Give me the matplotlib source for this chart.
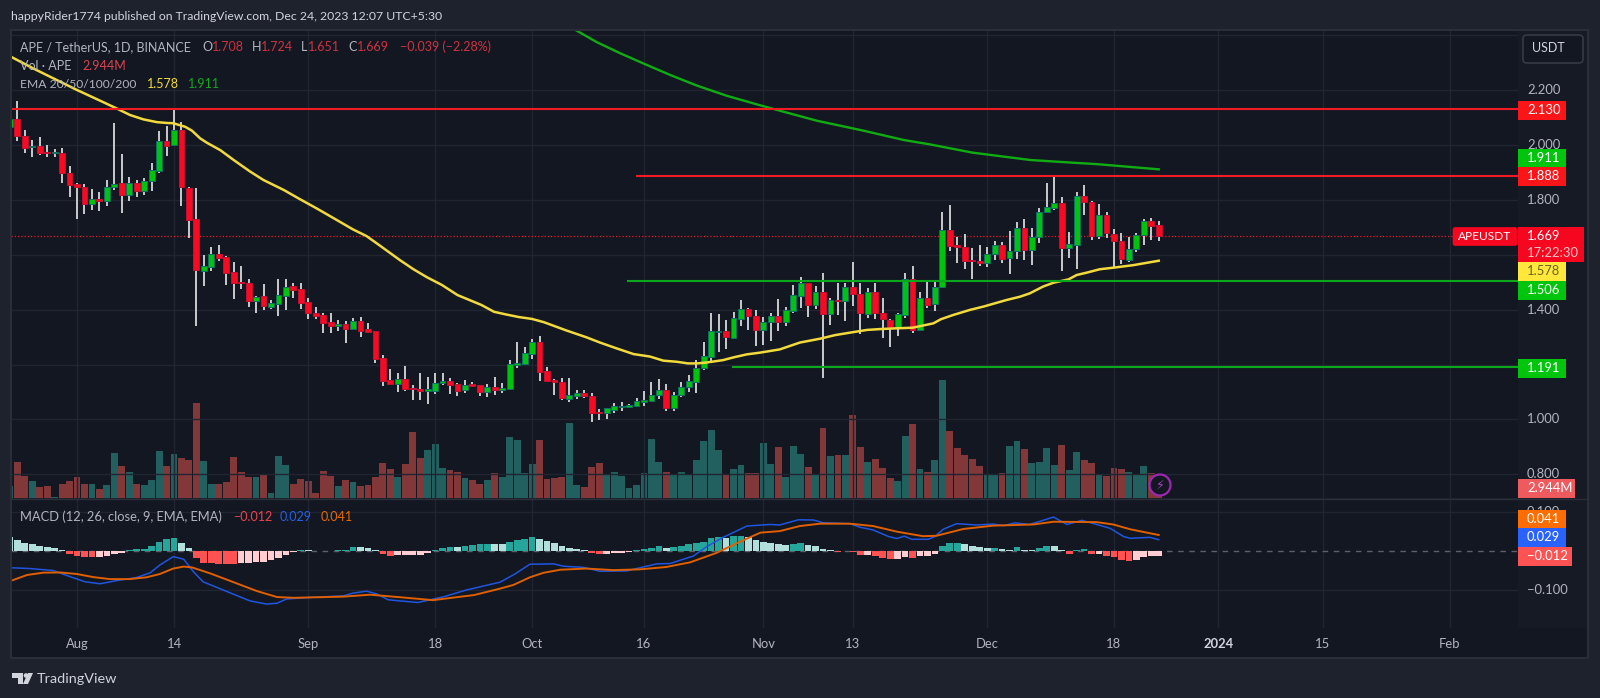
import numpy as np
import matplotlib
matplotlib.use("Agg")
import matplotlib.pyplot as plt
from matplotlib.patches import Rectangle, FancyBboxPatch, Circle, Polygon

plt.rcParams['font.family'] = ['Lato', 'DejaVu Sans']

# days counted from 1 Aug 2023, one candle per day (23 Jul -> 24 Dec)
days = np.arange(-9, 146)

opens = [2.067, 2.093, 2.032, 1.992, 1.996, 1.974, 1.971, 1.972, 1.899, 1.858,
         1.847, 1.785, 1.802, 1.797, 1.845, 1.860, 1.819, 1.860, 1.832, 1.868,
         1.904, 2.013, 1.999, 2.054, 1.844, 1.729, 1.542, 1.556, 1.603, 1.590,
         1.536, 1.501, 1.496, 1.433, 1.450, 1.411, 1.420, 1.451, 1.485, 1.474,
         1.426, 1.388, 1.382, 1.356, 1.342, 1.349, 1.328, 1.358, 1.328, 1.321,
         1.224, 1.144, 1.129, 1.147, 1.116, 1.112, 1.105, 1.105, 1.131, 1.141,
         1.129, 1.107, 1.129, 1.124, 1.100, 1.118, 1.108, 1.110, 1.199, 1.203,
         1.238, 1.281, 1.175, 1.145, 1.138, 1.073, 1.087, 1.096, 1.087, 1.027,
         1.022, 1.036, 1.045, 1.045, 1.049, 1.065, 1.068, 1.088, 1.108, 1.043,
         1.088, 1.119, 1.138, 1.187, 1.229, 1.317, 1.323, 1.295, 1.367, 1.401,
         1.378, 1.325, 1.355, 1.378, 1.355, 1.396, 1.451, 1.496, 1.418, 1.464,
         1.383, 1.436, 1.431, 1.484, 1.458, 1.385, 1.464, 1.386, 1.363, 1.338,
         1.379, 1.510, 1.325, 1.441, 1.419, 1.481, 1.690, 1.634, 1.627, 1.581,
         1.577, 1.569, 1.601, 1.634, 1.588, 1.615, 1.699, 1.617, 1.663, 1.754,
         1.770, 1.788, 1.623, 1.637, 1.815, 1.792, 1.668, 1.743, 1.677, 1.651,
         1.582, 1.621, 1.673, 1.722, 1.708]
closes = [2.094, 2.032, 1.990, 1.996, 1.969, 1.971, 1.974, 1.897, 1.854, 1.845,
          1.784, 1.802, 1.797, 1.845, 1.856, 1.819, 1.860, 1.831, 1.870, 1.907,
          2.013, 1.997, 2.054, 1.845, 1.727, 1.544, 1.559, 1.603, 1.587, 1.532,
          1.498, 1.497, 1.433, 1.445, 1.414, 1.423, 1.452, 1.484, 1.473, 1.423,
          1.389, 1.378, 1.352, 1.340, 1.346, 1.328, 1.358, 1.323, 1.317, 1.221,
          1.141, 1.128, 1.146, 1.111, 1.112, 1.102, 1.110, 1.134, 1.141, 1.125,
          1.105, 1.124, 1.123, 1.100, 1.117, 1.108, 1.113, 1.202, 1.204, 1.243,
          1.281, 1.174, 1.140, 1.135, 1.077, 1.089, 1.096, 1.084, 1.023, 1.022,
          1.040, 1.048, 1.049, 1.053, 1.066, 1.069, 1.088, 1.108, 1.043, 1.089,
          1.117, 1.140, 1.188, 1.231, 1.321, 1.321, 1.299, 1.368, 1.401, 1.377,
          1.326, 1.356, 1.378, 1.355, 1.397, 1.452, 1.496, 1.418, 1.464, 1.383,
          1.435, 1.430, 1.484, 1.457, 1.386, 1.464, 1.386, 1.365, 1.338, 1.383,
          1.510, 1.326, 1.441, 1.418, 1.484, 1.690, 1.633, 1.627, 1.578, 1.578,
          1.569, 1.603, 1.634, 1.586, 1.615, 1.699, 1.617, 1.663, 1.757, 1.773,
          1.788, 1.623, 1.638, 1.815, 1.791, 1.668, 1.745, 1.678, 1.649, 1.584,
          1.622, 1.673, 1.723, 1.703, 1.669]
highs = [2.100, 2.160, 2.054, 2.018, 2.028, 2.000, 1.984, 1.988, 1.924, 1.860,
         1.856, 1.838, 1.830, 1.872, 2.079, 1.967, 1.884, 1.872, 1.878, 1.933,
         2.051, 2.069, 2.127, 2.084, 1.848, 1.842, 1.599, 1.627, 1.635, 1.595,
         1.572, 1.559, 1.510, 1.450, 1.493, 1.435, 1.510, 1.510, 1.496, 1.498,
         1.441, 1.408, 1.386, 1.389, 1.362, 1.358, 1.368, 1.372, 1.350, 1.322,
         1.233, 1.182, 1.170, 1.195, 1.125, 1.170, 1.156, 1.170, 1.168, 1.150,
         1.134, 1.144, 1.135, 1.125, 1.129, 1.153, 1.131, 1.216, 1.283, 1.265,
         1.293, 1.305, 1.190, 1.148, 1.150, 1.150, 1.107, 1.107, 1.097, 1.037,
         1.040, 1.059, 1.063, 1.056, 1.077, 1.105, 1.136, 1.146, 1.129, 1.099,
         1.135, 1.162, 1.216, 1.281, 1.389, 1.383, 1.362, 1.391, 1.435, 1.405,
         1.399, 1.372, 1.389, 1.437, 1.411, 1.490, 1.518, 1.497, 1.486, 1.532,
         1.441, 1.498, 1.496, 1.575, 1.496, 1.478, 1.496, 1.441, 1.366, 1.386,
         1.532, 1.559, 1.465, 1.508, 1.502, 1.757, 1.781, 1.666, 1.674, 1.623,
         1.635, 1.627, 1.650, 1.645, 1.686, 1.720, 1.729, 1.696, 1.769, 1.860,
         1.887, 1.809, 1.684, 1.827, 1.854, 1.797, 1.785, 1.754, 1.692, 1.678,
         1.666, 1.678, 1.729, 1.733, 1.724]
lows = [2.060, 2.015, 1.972, 1.957, 1.963, 1.955, 1.957, 1.860, 1.811, 1.729,
        1.747, 1.763, 1.761, 1.777, 1.836, 1.751, 1.797, 1.811, 1.818, 1.833,
        1.897, 1.960, 1.997, 1.779, 1.660, 1.342, 1.486, 1.542, 1.578, 1.490,
        1.439, 1.474, 1.408, 1.386, 1.399, 1.403, 1.377, 1.399, 1.441, 1.401,
        1.366, 1.367, 1.314, 1.314, 1.322, 1.277, 1.326, 1.301, 1.316, 1.204,
        1.122, 1.124, 1.101, 1.105, 1.071, 1.071, 1.056, 1.093, 1.125, 1.093,
        1.085, 1.095, 1.119, 1.085, 1.083, 1.088, 1.095, 1.107, 1.186, 1.202,
        1.220, 1.140, 1.140, 1.089, 1.071, 1.063, 1.073, 1.078, 0.991, 0.998,
        1.002, 1.022, 1.032, 1.043, 1.046, 1.050, 1.068, 1.073, 1.032, 1.032,
        1.083, 1.100, 1.097, 1.180, 1.213, 1.247, 1.255, 1.295, 1.340, 1.326,
        1.267, 1.272, 1.287, 1.323, 1.340, 1.389, 1.405, 1.374, 1.402, 1.150,
        1.343, 1.380, 1.360, 1.413, 1.310, 1.368, 1.366, 1.295, 1.263, 1.305,
        1.368, 1.316, 1.325, 1.405, 1.396, 1.478, 1.615, 1.571, 1.548, 1.513,
        1.559, 1.556, 1.581, 1.571, 1.530, 1.584, 1.581, 1.563, 1.641, 1.754,
        1.763, 1.542, 1.587, 1.548, 1.745, 1.654, 1.656, 1.660, 1.550, 1.565,
        1.575, 1.611, 1.635, 1.654, 1.651]

# volume in millions
volumes = [3.5, 10.5, 6.5, 5.0, 3.2, 3.4, 0.4, 4.0, 5.0, 6.3,
           4.0, 4.0, 2.6, 3.7, 13.2, 9.4, 7.6, 4.2, 3.9, 5.3,
           13.8, 9.4, 12.9, 11.8, 11.2, 27.9, 10.9, 4.2, 4.0, 4.8,
           12.1, 7.7, 6.3, 6.3, 7.1, 1.4, 12.4, 9.7, 4.2, 5.6,
           5.0, 1.4, 7.9, 6.6, 3.5, 5.3, 4.8, 3.5, 3.9, 6.1,
           10.3, 8.4, 6.3, 9.9, 19.3, 11.8, 14.1, 15.9, 8.8, 8.1,
           7.7, 5.8, 5.3, 4.1, 5.3, 7.3, 6.1, 17.9, 17.0, 7.4,
           9.9, 17.0, 5.5, 5.8, 6.3, 22.1, 3.9, 3.1, 9.1, 10.2,
           6.8, 7.8, 6.6, 2.8, 3.9, 7.3, 17.4, 10.7, 7.6, 6.8,
           7.6, 6.8, 11.2, 16.7, 20.0, 14.1, 7.1, 8.6, 9.6, 7.4,
           7.4, 16.2, 9.9, 14.9, 6.3, 15.3, 13.1, 9.1, 6.8, 20.5,
           12.3, 12.6, 12.6, 24.4, 14.9, 10.5, 11.6, 8.9, 5.9, 5.0,
           18.2, 21.7, 8.4, 7.7, 11.2, 34.7, 19.8, 14.7, 12.7, 11.6,
           9.4, 7.1, 6.8, 7.4, 15.3, 16.8, 14.4, 10.3, 10.5, 14.6,
           9.7, 15.6, 8.2, 13.5, 11.2, 10.2, 6.8, 6.5, 8.9, 8.4,
           7.7, 6.8, 9.4, 7.3, 2.944]

hist = [.035, .028, .021, .017, .012, .011, .008, .002, -.007, -.013,
        -.015, -.016, -.015, -.012, -.008, -.004, .003, .004, .005, .013,
        .024, .030, .033, .021, .008, -.017, -.030, -.032, -.0325, -.033,
        -.034, -.032, -.031, -.029, -.027, -.023, -.017, -.009, -.003, .002,
        .002, .001, -.001, .001, .002, .003, .009, .009, .0085, .003,
        -.007, -.012, -.011, -.011, -.010, -.009, -.006, .003, .007, .011,
        .011, .014, .015, .017, .018, .018, .018, .023, .027, .031,
        .036, .031, .025, .021, .013, .007, .004, .003, -.005, -.007,
        -.007, -.005, -.004, -.002, .003, .005, .008, .014, .008, .010,
        .013, .019, .020, .024, .033, .035, .033, .038, .0385, .035,
        .028, .024, .021, .018, .015, .019, .020, .015, .013, .005,
        .003, -.003, -.001, -.002, -.010, -.009, -.014, -.018, -.021, -.0205,
        -.015, -.018, -.014, -.013, -.008, .013, .020, .0205, .018, .013,
        .010, .008, .0085, .005, .003, .009, .003, .002, .008, .013,
        .0128, .003, -.008, .003, .005, -.007, -.007, -.012, -.016, -.023,
        -.026, -.023, -.016, -.014, -.012]

ema_days = [-8.7, -5.9, 0, 3.1, 5.3, 7.1, 8.9, 10.7, 12, 12.9, 14.5, 15.4, 16.5, 17.4, 19.2, 21,
            23.2, 25, 27.7, 29.9, 32.1, 34.4, 37, 38.8, 40.2, 43.3, 45.1, 46.9, 48.9, 51, 54.2,
            55.9, 57.4, 59.2, 61, 62.6, 64, 65.6, 68.3, 70.1, 72.3, 74.6, 76.8, 78.6, 80.4, 81.9,
            83.1, 84.3, 86.6, 88, 89.8, 91.5, 94.2, 96.9, 99.6, 101.6, 103.6, 105.9, 107.6, 109.9,
            112, 114.8, 115.8, 117.4, 119.7, 121.5, 124.6, 126.4, 127.7, 129.5, 130.9, 132.9, 134,
            135.4, 137.1, 139, 141.6, 145]
ema_yellow = [2.319, 2.279, 2.200, 2.161, 2.133, 2.109, 2.093, 2.083, 2.080, 2.079, 2.066, 2.052,
              2.024, 2.008, 1.981, 1.945, 1.903, 1.872, 1.836, 1.802, 1.769, 1.733, 1.692, 1.668,
              1.641, 1.580, 1.547, 1.518, 1.490, 1.453, 1.417, 1.392, 1.383, 1.373, 1.366, 1.354,
              1.340, 1.324, 1.299, 1.280, 1.259, 1.238, 1.229, 1.214, 1.210, 1.204, 1.204, 1.207,
              1.216, 1.226, 1.237, 1.243, 1.255, 1.280, 1.294, 1.307, 1.316, 1.326, 1.329, 1.332,
              1.334, 1.350, 1.365, 1.380, 1.399, 1.411, 1.435, 1.447, 1.459, 1.484, 1.498, 1.510,
              1.526, 1.535, 1.547, 1.553, 1.562, 1.578]
ema200_days = [66.8, 69.7, 72.8, 75.9, 79.5, 83.1, 87.1, 91.1, 94.7, 99.2, 105.4, 110.8, 114.3,
               120, 127.8, 133, 136.7, 145]
ema_green = [2.419, 2.374, 2.334, 2.297, 2.255, 2.216, 2.179, 2.148, 2.121, 2.088, 2.052, 2.018,
             2.002, 1.972, 1.945, 1.936, 1.930, 1.911]

macd_days = [-8.8, -6.3, -3.2, -1.2, 1.1, 3.1, 5.3, 8, 9.8, 11.1, 12.9, 14.3, 15.6, 16.9, 19.6, 21,
             23.2, 25.4, 26.8, 28.1, 31.2, 35.7, 37, 38.8, 40.2, 41.7, 43.3, 45.7, 49.2, 52.2, 55.1,
             56.7, 58.7, 60.7, 63.9, 65.2, 67.9, 70.1, 73.7, 75.9, 77.7, 79.5, 82.6, 84.4, 86.6,
             89.8, 92.9, 94.2, 96.7, 98.7, 100, 103.6, 105, 106.7, 108.8, 109.9, 110.9, 111.9,
             114.1, 115, 116.1, 117.9, 120.6, 122.8, 124.2, 125.7, 127.7, 130.9, 132.7, 134.7,
             136.7, 138.5, 140.3, 141.2, 143.8, 145]
macd_blue = [-.043, -.045, -.050, -.064, -.079, -.084, -.076, -.068, -.056, -.036, -.0145, -.021,
             -.053, -.079, -.100, -.111, -.128, -.136, -.134, -.123, -.119, -.115, -.108, -.103,
             -.110, -.125, -.128, -.132, -.117, -.100, -.087, -.080, -.059, -.034, -.033, -.039,
             -.042, -.052, -.051, -.041, -.033, -.032, -.013, .011, .035, .064, .068, .0667, .080,
             .0795, .0726, .070, .0607, .054, .037, .032, .038, .030, .030, .037, .0556, .070,
             .0667, .069, .065, .072, .068, .087, .068, .0786, .068, .058, .037, .0325, .035, .029]
signal_days = [-8.8, -6.7, -4.5, -2.3, 0, 2.2, 4.4, 7.1, 9.3, 11.1, 12.9, 14.3, 15.4, 17.8, 21.4,
               24.1, 26.8, 29, 35.7, 39.3, 44.2, 47.7, 53.2, 56.6, 58.5, 60.7, 62.5, 64.8, 68.3,
               71.9, 75.5, 79, 82.2, 85.7, 88.9, 91.6, 94.2, 96.9, 99.6, 103.6, 106.7, 109.9,
               113.4, 115.2, 118.8, 122.8, 128.2, 130.9, 136.7, 138.9, 141.2, 145]
macd_orange = [-.076, -.0615, -.0555, -.055, -.059, -.067, -.072, -.072, -.0675, -.059, -.045, -.040,
               -.042, -.057, -.083, -.1026, -.118, -.120, -.117, -.112, -.120, -.126, -.113, -.097,
               -.087, -.0675, -.056, -.048, -.045, -.049, -.047, -.041, -.029, -.005, .024, .047,
               .051, .064, .070, .070, .064, .0496, .038, .039, .0564, .065, .068, .075, .074, .068,
               .0556, .041]

price_ticks = [2.4, 2.2, 2.0, 1.8, 1.6, 1.4, 1.2, 1.0, 0.8]
# 2.400, 1.600 and 1.200 never show, tags or the button sit on them
price_values = [2.2, 2.0, 1.8, 1.4, 1.0, 0.8]
price_labels = ['2.200', '2.000', '1.800', '1.400', '1.000', '0.800']
macd_ticks = [0.1, -0.1]
macd_labels = ['0.100', '\u22120.100']
time_ticks = [0, 13, 31, 48, 61, 76, 92, 104, 122, 139, 153, 167, 184]
time_labels = ['Aug', '14', 'Sep', '18', 'Oct', '16', 'Nov', '13', 'Dec', '18', '2024', '15', 'Feb']

# (level, first day) of the drawn lines
red_levels = [(2.130, -9), (1.888, 74.9)]
green_levels = [(1.506, 73.7), (1.191, 87.8)]
last_close = 1.669

W, H = 1600, 698
BG = '#1e222d'
PANE = '#131722'
GRID = '#212531'
GREY = '#b2b5be'
UP, DOWN = '#00c20f', '#fa0a22'

def pane(x0, y0, x1, y1):
    return fig.add_axes([x0 / W, 1 - y1 / H, (x1 - x0) / W, (y1 - y0) / H])

fig = plt.figure(figsize=(W / 100, H / 100), dpi=100, facecolor=BG)

xlim = (-8.85, 193.16)
ylim = (0.7137, 2.4186)

# volume sits under the candles
ax_vol = pane(11, 30, 1518, 498)
ax_vol.set_xlim(xlim)
ax_vol.set_ylim(0, 137.8)
ax_vol.axis('off')
ax_vol.add_patch(Rectangle((0, 0), 1, 1, transform=ax_vol.transAxes, color=PANE, zorder=0))

o = np.array(opens)
c = np.array(closes)
h = np.array(highs)
l = np.array(lows)
up = c >= o
ax_vol.bar(days, volumes, width=0.92, color=np.where(up, '#22605f', '#823839'))

ax = pane(11, 30, 1518, 498)
ax.patch.set_alpha(0)
ax.set_xlim(xlim)
ax.set_ylim(ylim)
ax.set_yticks(price_ticks)
ax.set_xticks(time_ticks)
ax.grid(True, color=GRID, lw=1)
ax.set_axisbelow(True)
ax.tick_params(length=0, labelbottom=False, labelleft=False)
for s in ax.spines.values():
    s.set_visible(False)

ax.hlines(last_close, xlim[0], 187.5, color='#f01525', lw=0.9, ls=(0, (1, 1.6)), zorder=2)
ax.vlines(days, l, h, color='#c9cacc', lw=1.4, zorder=3)
ax.bar(days[up], (c - o)[up], bottom=o[up], width=0.78, color=UP, edgecolor='#0f6f62', lw=0.7, zorder=4)
ax.bar(days[~up], (o - c)[~up], bottom=c[~up], width=0.78, color=DOWN, edgecolor='#c01030', lw=0.7, zorder=4)

ax.plot(ema_days, ema_yellow, color='#f2da3c', lw=1.8, zorder=5)
ax.plot(ema200_days, ema_green, color='#10ad12', lw=1.7, zorder=5)
for lev, start in red_levels:
    ax.hlines(lev, start, xlim[1], color='#f01c22', lw=1.5, zorder=6)
for lev, start in green_levels:
    ax.hlines(lev, start, xlim[1], color='#0aa81a', lw=1.5, zorder=6)

# MACD pane
ax_m = pane(11, 499, 1518, 628)
ax_m.set_facecolor(PANE)
ax_m.set_xlim(xlim)
ax_m.set_ylim(-0.1974, 0.1333)
ax_m.set_yticks(macd_ticks)
ax_m.set_xticks(time_ticks)
ax_m.grid(True, color=GRID, lw=1)
ax_m.set_axisbelow(True)
ax_m.tick_params(length=0, labelbottom=False, labelleft=False)
for s in ax_m.spines.values():
    s.set_visible(False)

hv = np.array(hist)
prev = np.r_[hv[0] + 1, hv[:-1]]
hist_colors = []
for v, p in zip(hv, prev):
    if v >= 0:
        hist_colors.append('#26a69a' if v > p else '#b2dfdb')
    else:
        hist_colors.append('#ffcdd2' if v >= p else '#ff5252')
ax_m.axhline(0, color='#5d606b', lw=1, ls=(0, (4, 4)), zorder=1)
ax_m.bar(days, hv, width=0.9, color=hist_colors, zorder=2)
ax_m.plot(macd_days, macd_blue, color='#1f55e0', lw=1.1, zorder=3)
ax_m.plot(signal_days, macd_orange, color='#e05f00', lw=1.4, zorder=4)

# overlay in pixels for the chrome and the scale tags
ov = fig.add_axes([0, 0, 1, 1])
ov.set_xlim(0, W)
ov.set_ylim(H, 0)
ov.axis('off')
ov.patch.set_alpha(0)

def label(x, y, s, color=GREY, size=9.0, ha='left', weight='normal', z=5):
    ov.text(x, y, s, color=color, fontsize=size, ha=ha, va='center', fontweight=weight, zorder=z)

def tag(y, s, bg, fg='white', right=1566):
    ov.add_patch(Rectangle((1518, y - 9.5), right - 1518, 19, color=bg, lw=0, zorder=6))
    label(1527, y, s, color=fg, size=9.4, z=7)

# frame and right scale
ov.add_patch(Rectangle((1518, 30), 70, 628, color='#161a25', lw=0, zorder=1))
ov.add_patch(Rectangle((11, 628), 1577, 30, color=PANE, lw=0, zorder=1))
ov.plot([11, 1588], [498.5, 498.5], color='#2a2e39', lw=1, zorder=2)
ov.plot([11, 1588, 1588, 11, 11], [30, 30, 658, 658, 30], color='#2a2e39', lw=1.5, zorder=2)

label(11, 17, 'happyRider1774 published on TradingView.com, Dec 24, 2023 12:07 UTC+5:30', color='#d1d4dc', size=8.8)

# legend rows
label(20, 47, 'APE / TetherUS, 1D, BINANCE')
RED_TXT = '#d0323f'
for x, s, col in [(202, 'O', GREY), (212, '1.708', RED_TXT), (252, 'H', GREY), (261, '1.724', RED_TXT),
                  (301, 'L', GREY), (308, '1.651', RED_TXT), (348, 'C', GREY), (357, '1.669', RED_TXT),
                  (400, '\u22120.039 (\u22122.28%)', RED_TXT)]:
    label(x, 47, s, col)
label(20, 66, 'Vol \u00b7 APE')
label(82, 66, '2.944M', '#d9434e')
label(20, 84, 'EMA 20/50/100/200', size=8.7)
label(147, 84, '1.578', '#f2da3c')
label(188, 84, '1.911', '#12a81e')
label(20, 517, 'MACD (12, 26, close, 9, EMA, EMA)', size=9.3)
label(233, 517, '\u22120.012', '#f0424e')
label(280, 517, '0.029', '#2360e8')
label(321, 517, '0.041', '#e86a00')

# scale labels, positions come from the axes transforms
for v, s in zip(price_values, price_labels):
    ypx = H - ax.transData.transform((0, v))[1]
    label(1527, ypx, s, size=9.4, z=3)
for v, s in zip(macd_ticks, macd_labels):
    ypx = H - ax_m.transData.transform((0, v))[1]
    label(1527, ypx, s, size=9.4, z=3)
for d, s in zip(time_ticks, time_labels):
    xpx = ax.transData.transform((d, 0))[0]
    label(xpx, 644, s, color='#d1d4dc' if s == '2024' else GREY, size=9.4, ha='center',
          weight='bold' if s == '2024' else 'normal')

# tags on the price scale
tag(110, '2.130', '#fb1418')
tag(158, '1.911', '#00c50c')
tag(176, '1.888', '#fb1418')
tag(271, '1.578', '#ffe83b', fg='#6b6420')
tag(290, '1.506', '#00c50c')
tag(368, '1.191', '#00c50c')
tag(488, '2.944M', '#ef5a5f', right=1575)
tag(519, '0.041', '#ff6d00')
tag(537, '0.029', '#2962ff')
tag(556, '\u22120.012', '#ff5252', right=1572)

ov.add_patch(Rectangle((1518, 227), 66, 35, color='#f7071f', lw=0, zorder=6))
label(1527, 236, '1.669', 'white', 9.4, z=7)
label(1527, 253, '17:22:30', '#ffc4c8', 9.4, z=7)
ov.add_patch(FancyBboxPatch((1453, 227.5), 64, 18, boxstyle='round,pad=0,rounding_size=2', fc='#f7071f', ec='#f7071f', lw=0.5, zorder=6))
label(1485, 236.5, 'APEUSDT', 'white', 8.6, ha='center', z=7)

# currency button
ov.add_patch(FancyBboxPatch((1523, 35), 60, 28, boxstyle='round,pad=0,rounding_size=4', fc='#131722', ec='#363a45', lw=1.2, zorder=6))
label(1548, 48, 'USDT', '#d1d4dc', 9.0, ha='center', z=7)

# bolt icon
ov.add_patch(Circle((1160, 485), 10.5, fc=PANE, ec='#9c27b0', lw=1.6, zorder=6))
ov.text(1160, 485, '\u26a1', color='#b040c8', fontsize=9, ha='center', va='center', zorder=7, family='DejaVu Sans')

# TradingView mark
LOGO = '#d1d4dc'
ov.add_patch(Polygon([(12, 673), (23, 673), (23, 684), (18, 684), (18, 678), (12, 678)], color=LOGO, lw=0, zorder=6))
ov.add_patch(Circle((26, 675.5), 2.3, color=LOGO, lw=0, zorder=6))
ov.add_patch(Polygon([(28, 673), (33, 673), (28, 684), (23, 684)], color=LOGO, lw=0, zorder=6))
label(37, 679, 'TradingView', LOGO, 10.4)

fig.savefig('out.png', dpi=100, facecolor=BG)
